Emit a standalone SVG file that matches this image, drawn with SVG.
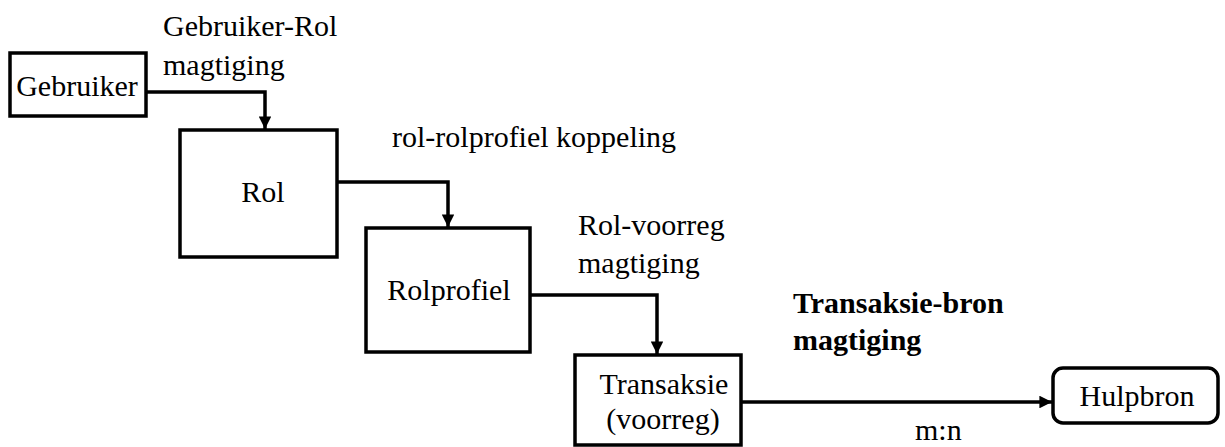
<svg xmlns="http://www.w3.org/2000/svg" width="1225" height="447" viewBox="0 0 1225 447">
  <style>
    .box { fill: #fff; stroke: #000; stroke-width: 3.5; }
    .wire { fill: none; stroke: #000; stroke-width: 3.5; }
    .t { font-family: 'Liberation Serif', 'Times New Roman', serif; font-size: 30px; fill: #000; }
    .bold { font-weight: bold; }
    .mid { text-anchor: middle; }
  </style>
  <defs>
    <marker id="arrow" viewBox="0 0 10 10" refX="10" refY="5" markerWidth="3.6" markerHeight="3.6" markerUnits="strokeWidth" orient="auto">
      <path d="M0,0 L10,5 L0,10 Z" fill="#000"/>
    </marker>
  </defs>
  <rect width="1225" height="447" fill="#fff"/>

  <!-- orthogonal connectors between the boxes -->
  <g id="connectors">
    <path class="wire" d="M146,92 H265 V129" marker-end="url(#arrow)"/>
    <path class="wire" d="M337,182 H448 V227" marker-end="url(#arrow)"/>
    <path class="wire" d="M530,295 H657 V354" marker-end="url(#arrow)"/>
    <path class="wire" d="M741,402 H1052" marker-end="url(#arrow)"/>
  </g>

  <!-- connector labels -->
  <g id="labels">
    <text class="t" x="163" y="36">Gebruiker-Rol</text>
    <text class="t" x="163" y="75">magtiging</text>
    <text class="t" x="392" y="147" font-size="30.5">rol-rolprofiel koppeling</text>
    <text class="t" x="578" y="235">Rol-voorreg</text>
    <text class="t" x="578" y="273">magtiging</text>
    <text class="t bold" x="793" y="313">Transaksie-bron</text>
    <text class="t bold" x="793" y="350">magtiging</text>
    <text class="t" x="915" y="440">m:n</text>
  </g>

  <g id="gebruiker">
    <rect class="box" x="10" y="53" width="136" height="63"/>
    <text class="t mid" x="77" y="96" font-size="31">Gebruiker</text>
  </g>

  <g id="rol">
    <rect class="box" x="180" y="130" width="157" height="127"/>
    <text class="t mid" x="263" y="202">Rol</text>
  </g>

  <g id="rolprofiel">
    <rect class="box" x="366" y="228" width="164" height="124"/>
    <text class="t mid" x="449" y="300">Rolprofiel</text>
  </g>

  <g id="transaksie">
    <rect class="box" x="575" y="355" width="166" height="90"/>
    <text class="t mid" x="664" y="394" font-size="32">Transaksie</text>
    <text class="t mid" x="663" y="429" font-size="32">(voorreg)</text>
  </g>

  <g id="hulpbron">
    <rect class="box" x="1053" y="368" width="165" height="55" rx="10" ry="10"/>
    <text class="t mid" x="1137" y="406" font-size="31">Hulpbron</text>
  </g>
</svg>
